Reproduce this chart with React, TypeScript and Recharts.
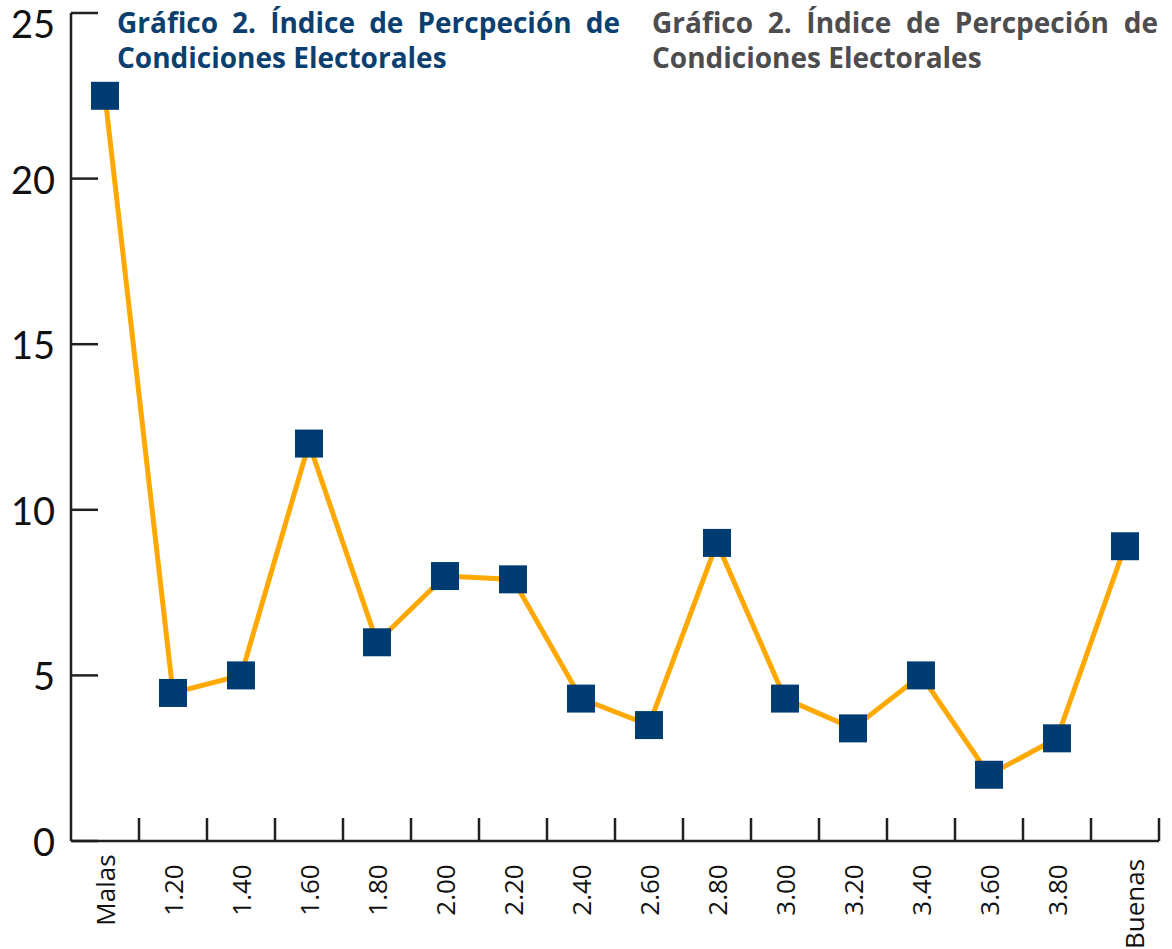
import React from 'react';
import { LineChart, Line, XAxis, YAxis } from 'recharts';

const categories = ['Malas', '1.20', '1.40', '1.60', '1.80', '2.00', '2.20', '2.40', '2.60', '2.80', '3.00', '3.20', '3.40', '3.60', '3.80', 'Buenas'];
const values = [22.5, 4.47, 5.0, 12.0, 6.0, 8.0, 7.9, 4.3, 3.5, 9.0, 4.3, 3.4, 5.0, 2.0, 3.1, 8.9];
const yTicks = [0, 5, 10, 15, 20, 25];
const titleLines = ['Gráfico 2. Índice de Percpeción de', 'Condiciones Electorales'];

const data = categories.map((c, i) => ({ cat: c, v: values[i] }));

const W = 1172;
const H = 949;
const LEFT = 71;
const RIGHT_MARGIN = 13;
const PLOT_W = W - RIGHT_MARGIN - LEFT;
const HALF_BAND = PLOT_W / categories.length / 2;
const AXIS_COLOR = '#231F20';
const BLUE = '#003C71';
const ORANGE = '#FFA800';

const YTick = (props: any) => {
  const { x, y, payload } = props;
  const axisX = x + 18;
  const ty = y < 30 ? y + 10 : y;
  return (
    <g>
      <line x1={axisX} x2={axisX + 27} y1={y} y2={y} stroke={AXIS_COLOR} strokeWidth={2.5} />
      <text x={x + 2} y={ty} textAnchor="end" dominantBaseline="central" fontSize={38} fontFamily="Lato" fill="#111">
        {payload.value}
      </text>
    </g>
  );
};

const XTick = (props: any) => {
  const { x, y, payload, index } = props;
  const last = index === categories.length - 1;
  const lx = x + (last ? 9 : 0);
  const ly = y + 49 + (last ? 14 : 0);
  return (
    <g>
      <line x1={x + HALF_BAND} x2={x + HALF_BAND} y1={y} y2={y - 23} stroke={AXIS_COLOR} strokeWidth={2.5} />
      <text
        x={lx}
        y={ly}
        transform={`rotate(-90, ${lx}, ${ly})`}
        textAnchor="middle"
        dominantBaseline="central"
        fontSize={26}
        fontFamily="Open Sans"
        fill="#111"
      >
        {payload.value}
      </text>
    </g>
  );
};

const SquareDot = (props: any) => {
  const { cx, cy } = props;
  if (cx == null || cy == null) return null;
  return <rect x={cx - 14} y={cy - 14} width={28} height={28} fill={BLUE} />;
};

const titleStyle = (left: number, width: number, color: string): React.CSSProperties => ({
  position: 'absolute',
  left,
  top: 5,
  width,
  fontFamily: 'Open Sans',
  fontWeight: 700,
  fontSize: 28,
  lineHeight: '35px',
  color,
});

const Title = ({ left, width, color }: { left: number; width: number; color: string }) => (
  <div style={titleStyle(left, width, color)}>
    <div style={{ display: 'flex', justifyContent: 'space-between', whiteSpace: 'nowrap' }}>
      {titleLines[0].split(' ').map((w, i) => (
        <span key={i}>{w}</span>
      ))}
    </div>
    <div style={{ whiteSpace: 'nowrap' }}>{titleLines[1]}</div>
  </div>
);

export default function App() {
  return (
    <div style={{ position: 'absolute', left: 0, top: 0, width: W, height: H, background: '#fff' }}>
      <LineChart width={W} height={H} data={data} margin={{ top: 13, right: RIGHT_MARGIN, bottom: 0, left: 0 }}>
        <YAxis
          width={LEFT}
          domain={[0, 25]}
          ticks={yTicks}
          type="number"
          axisLine={{ stroke: AXIS_COLOR, strokeWidth: 2.5 }}
          tickLine={false}
          tickSize={0}
          tickMargin={18}
          tick={<YTick />}
          interval={0}
        />
        <XAxis
          dataKey="cat"
          height={108}
          interval={0}
          padding={{ left: HALF_BAND, right: HALF_BAND }}
          axisLine={{ stroke: AXIS_COLOR, strokeWidth: 2.5 }}
          tickLine={false}
          tickSize={0}
          tickMargin={0}
          tick={<XTick />}
        />
        <Line
          dataKey="v"
          stroke={ORANGE}
          strokeWidth={5}
          dot={<SquareDot />}
          activeDot={false}
          isAnimationActive={false}
        />
      </LineChart>
      <Title left={117} width={503} color="#0B3F6F" />
      <Title left={652} width={506} color="#4D4D4F" />
    </div>
  );
}
